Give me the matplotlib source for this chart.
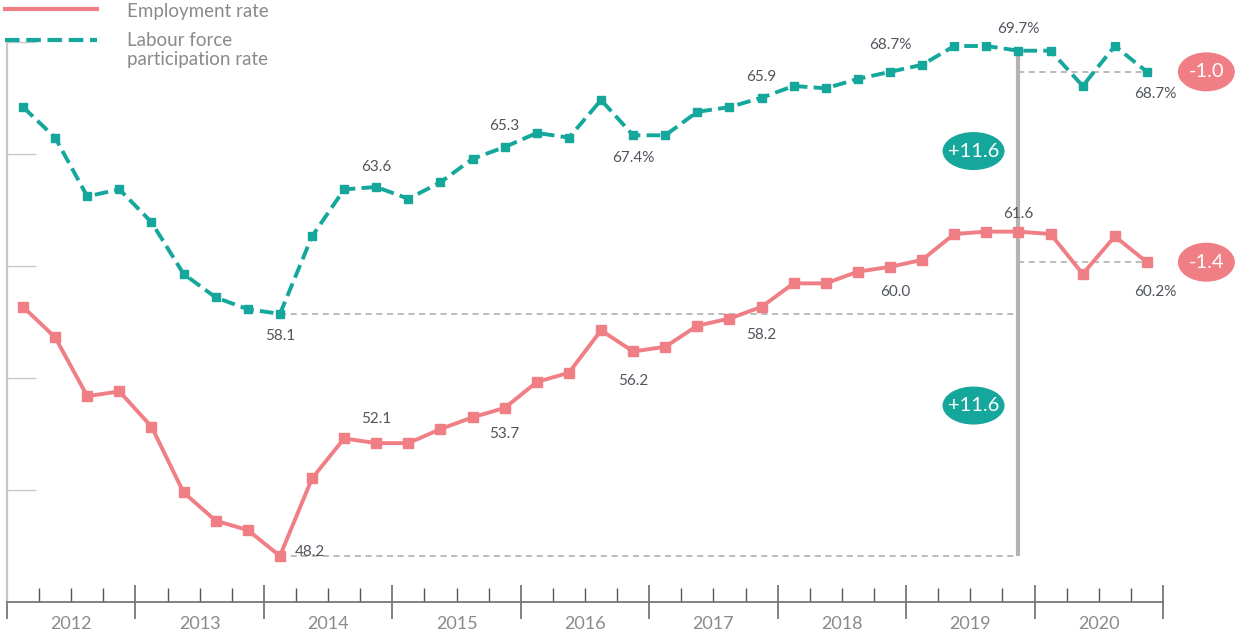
import numpy as np
import matplotlib
matplotlib.use("Agg")
import matplotlib.pyplot as plt
from matplotlib import transforms
from matplotlib.patches import Ellipse
from matplotlib.lines import Line2D

plt.rcParams['font.family'] = ['Lato', 'DejaVu Sans']

# quarterly data, 2012 Q1 .. 2020 Q4
years = ['2012', '2013', '2014', '2015', '2016', '2017', '2018', '2019', '2020']

employment = [58.8, 57.5, 55.0, 55.2, 53.7, 50.9, 49.7, 49.3,
              48.2, 51.5, 53.2, 53.0, 53.0, 53.6, 54.1, 54.5,
              55.6, 56.0, 57.8, 56.9, 57.1, 58.0, 58.3, 58.8,
              59.8, 59.8, 60.3, 60.5, 60.8, 61.9, 62.0, 62.0,
              61.9, 60.2, 61.8, 60.7]

participation = [67.3, 66.0, 63.5, 63.8, 62.4, 60.2, 59.2, 58.7,
                 58.5, 61.8, 63.8, 63.9, 63.4, 64.1, 65.1, 65.6,
                 66.2, 66.0, 67.6, 66.1, 66.1, 67.1, 67.3, 67.7,
                 68.2, 68.1, 68.5, 68.8, 69.1, 69.9, 69.9, 69.7,
                 69.7, 68.2, 69.9, 68.8]

# (quarter index, label)
part_labels = [(8, '58.1'), (11, '63.6'), (15, '65.3'), (19, '67.4%'),
               (23, '65.9'), (27, '68.7%'), (31, '69.7%'), (35, '68.7%')]
emp_labels = [(8, '48.2'), (11, '52.1'), (15, '53.7'), (19, '56.2'),
              (23, '58.2'), (27, '60.0'), (31, '61.6'), (35, '60.2%')]

# label offsets in pixels (dx, dy)
part_off = [(0, -22), (0, 20), (0, 21), (0, -23), (0, 21), (0, 27), (0, 22), (8, -22)]
emp_off = [(30, 4), (0, 24), (0, -26), (0, -30), (0, -28), (5, -25), (0, 18), (8, -30)]

change_total = '+11.6'
change_part = '-1.0'
change_emp = '-1.4'

PINK = '#f07e85'
TEAL = '#15a79c'
GREY_TXT = '#8a8a8a'
DARK_TXT = '#50555c'

n = len(employment)
x = np.arange(n) + 0.5

fig = plt.figure(figsize=(12.35, 6.36), dpi=100)
ax = fig.add_axes([7 / 1235, 34 / 636, 1156 / 1235, 560 / 636])

ax.plot(x, employment, color=PINK, lw=2.8, marker='s', ms=6.5,
        solid_joinstyle='round', zorder=3)
ax.plot(x, participation, color=TEAL, lw=2.8, marker='s', ms=5.5,
        dashes=(3.5, 1.6), zorder=3)

ax.set_xlim(0, n)
ax.set_ylim(46.24, 70.07)

# reference lines
i_min = int(np.argmin(employment))
i_peak = 31
i_end = n - 1
ax.plot([x[i_min], x[i_peak]], [participation[i_min]] * 2, color='#aaaaaa',
        lw=1.1, dashes=(4, 3), zorder=1)
ax.plot([x[i_min], x[i_peak]], [employment[i_min]] * 2, color='#aaaaaa',
        lw=1.1, dashes=(4, 3), zorder=1)
ax.plot([x[i_peak], x[i_end]], [participation[i_end]] * 2, color='#aaaaaa',
        lw=1.1, dashes=(4, 3), zorder=1)
ax.plot([x[i_peak], x[i_end]], [employment[i_end]] * 2, color='#aaaaaa',
        lw=1.1, dashes=(4, 3), zorder=1)
ax.plot([x[i_peak], x[i_peak]], [employment[i_min], participation[i_peak]],
        color='#b3b3b3', lw=3, zorder=2, solid_capstyle='butt')

# data labels
for (i, t), (dx, dy) in zip(part_labels, part_off):
    ax.annotate(t, (x[i], participation[i]), xytext=(dx, dy),
                textcoords='offset pixels', ha='center', va='center',
                fontsize=11, color=DARK_TXT)
for (i, t), (dx, dy) in zip(emp_labels, emp_off):
    ax.annotate(t, (x[i], employment[i]), xytext=(dx, dy),
                textcoords='offset pixels', ha='center', va='center',
                fontsize=11, color=DARK_TXT)


def badge(xc, yc, text, color, w, h):
    tr = fig.dpi_scale_trans + transforms.ScaledTranslation(xc, yc, ax.transData)
    e = Ellipse((0, 0), w / 100, h / 100, transform=tr, facecolor=color,
                edgecolor='none', clip_on=False, zorder=5)
    ax.add_artist(e)
    ax.text(xc, yc, text, ha='center', va='center', color='white',
            fontsize=14.5, zorder=6, clip_on=False)


badge(30.1, 65.43, change_total, TEAL, 62, 38)
badge(30.1, 54.6, change_total, TEAL, 62, 38)
badge(37.35, participation[i_end], change_part, PINK, 57, 39)
badge(37.35, employment[i_end], change_emp, PINK, 57, 39)

# axes styling
for s in ['top', 'right']:
    ax.spines[s].set_visible(False)
ax.spines['left'].set_color('#c8c8c8')
ax.spines['left'].set_linewidth(1.6)
ax.spines['bottom'].set_color('#777777')
ax.spines['bottom'].set_linewidth(1.3)

ax.set_yticks(np.linspace(46.24, 70.07, 6)[1:])
ax.tick_params(axis='y', direction='in', length=21, width=1, color='#c8c8c8',
               labelleft=False)

ax.set_xticks(np.arange(0, n + 1, 4))
ax.set_xticks(np.arange(0, n + 1), minor=True)
ax.tick_params(axis='x', which='major', direction='inout', length=25, width=1.3,
               color='#777777', labelbottom=False)
ax.tick_params(axis='x', which='minor', direction='in', length=10, width=1,
               color='#555555')
for k, yr in enumerate(years):
    ax.text(4 * k + 2, -0.04, yr, transform=ax.get_xaxis_transform(),
            ha='center', va='center', fontsize=13, color=GREY_TXT)

# legend
fig.add_artist(Line2D([5 / 1235, 97 / 1235], [1 - 9 / 636] * 2, color=PINK,
                      lw=3, transform=fig.transFigure))
fig.add_artist(Line2D([5 / 1235, 97 / 1235], [1 - 40 / 636] * 2, color=TEAL,
                      lw=3, dashes=(3.5, 1.6), transform=fig.transFigure))
fig.text(127 / 1235, 1 - 12 / 636, 'Employment rate', ha='left', va='center',
         fontsize=13.5, color=GREY_TXT)
fig.text(127 / 1235, 1 - 50 / 636, 'Labour force\nparticipation rate', ha='left',
         va='center', fontsize=13.5, color=GREY_TXT, linespacing=1.1)

fig.savefig('out.png', dpi=100)
